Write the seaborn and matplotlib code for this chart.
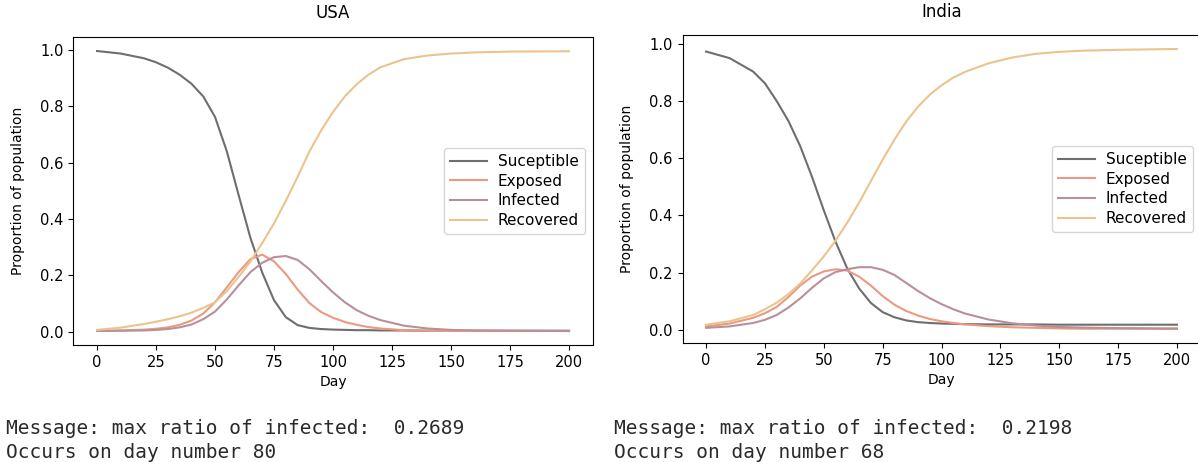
import numpy as np
import pandas as pd
import matplotlib
matplotlib.use("Agg")
import matplotlib.pyplot as plt
import seaborn as sns

# ---- data ----
usa_days = [0, 10, 20, 25, 30, 35, 40, 45, 50, 55, 60, 65, 70, 75, 80, 85, 90, 95,
            100, 105, 110, 115, 120, 130, 140, 150, 160, 175, 200]
usa_S = [0.996, 0.987, 0.970, 0.956, 0.937, 0.912, 0.880, 0.835, 0.762, 0.640, 0.485, 0.333,
         0.210, 0.112, 0.052, 0.024, 0.014, 0.010, 0.008, 0.007, 0.006, 0.006, 0.005, 0.005,
         0.004, 0.004, 0.004, 0.004, 0.004]
usa_E = [0.004, 0.005, 0.008, 0.011, 0.016, 0.025, 0.040, 0.065, 0.105, 0.158, 0.212, 0.258,
         0.274, 0.250, 0.205, 0.150, 0.102, 0.070, 0.050, 0.035, 0.025, 0.017, 0.012, 0.006,
         0.004, 0.003, 0.003, 0.003, 0.003]
usa_I = [0.003, 0.004, 0.005, 0.007, 0.010, 0.016, 0.026, 0.045, 0.072, 0.115, 0.165, 0.212,
         0.245, 0.265, 0.2689, 0.255, 0.222, 0.180, 0.140, 0.105, 0.077, 0.057, 0.042, 0.022,
         0.012, 0.007, 0.005, 0.004, 0.003]
usa_R = [0.007, 0.015, 0.028, 0.036, 0.045, 0.055, 0.068, 0.085, 0.105, 0.145, 0.195, 0.250,
         0.315, 0.385, 0.465, 0.550, 0.640, 0.715, 0.780, 0.835, 0.878, 0.912, 0.938, 0.967,
         0.980, 0.987, 0.991, 0.994, 0.995]

ind_days = [0, 10, 20, 25, 30, 35, 40, 45, 50, 55, 60, 65, 70, 75, 80, 85, 90, 95,
            100, 105, 110, 120, 130, 140, 150, 160, 175, 200]
ind_S = [0.973, 0.950, 0.903, 0.862, 0.800, 0.730, 0.642, 0.535, 0.418, 0.308, 0.214, 0.145,
         0.094, 0.062, 0.044, 0.033, 0.027, 0.024, 0.022, 0.021, 0.020, 0.019, 0.019, 0.019,
         0.018, 0.018, 0.018, 0.018]
ind_E = [0.012, 0.022, 0.042, 0.058, 0.080, 0.115, 0.155, 0.186, 0.204, 0.212, 0.207, 0.186,
         0.155, 0.118, 0.088, 0.066, 0.050, 0.038, 0.030, 0.024, 0.019, 0.013, 0.009, 0.007,
         0.005, 0.004, 0.004, 0.003]
ind_I = [0.007, 0.012, 0.024, 0.035, 0.052, 0.078, 0.110, 0.147, 0.180, 0.202, 0.212, 0.219,
         0.219, 0.210, 0.192, 0.164, 0.136, 0.111, 0.090, 0.072, 0.057, 0.036, 0.023, 0.015,
         0.010, 0.008, 0.006, 0.005]
ind_R = [0.018, 0.030, 0.052, 0.072, 0.095, 0.125, 0.162, 0.208, 0.257, 0.312, 0.375, 0.445,
         0.520, 0.595, 0.665, 0.728, 0.780, 0.822, 0.855, 0.882, 0.902, 0.932, 0.952, 0.965,
         0.972, 0.976, 0.979, 0.982]

labels = ["Suceptible", "Exposed", "Infected", "Recovered"]
colors = {"Suceptible": "#6e6e6e", "Exposed": "#ea9a80",
          "Infected": "#b98f99", "Recovered": "#eac48e"}

countries = [
    ("USA", usa_days, [usa_S, usa_E, usa_I, usa_R], "0.2689", "80"),
    ("India", ind_days, [ind_S, ind_E, ind_I, ind_R], "0.2198", "68"),
]

fig = plt.figure(figsize=(11.98, 4.62), dpi=100)
positions = [[0.0613, 0.2532, 0.4334, 0.6667], [0.5697, 0.2576, 0.4324, 0.6667]]

for (name, days, series, mx, day), pos, tx in zip(countries, positions, [0.005, 0.5125]):
    ax = fig.add_axes(pos)
    frames = []
    for lab, vals in zip(labels, series):
        frames.append(pd.DataFrame({"Day": days, "value": vals, "comp": lab}))
    df = pd.concat(frames, ignore_index=True)
    sns.lineplot(data=df, x="Day", y="value", hue="comp", hue_order=labels,
                 palette=colors, ax=ax, linewidth=1.5, sort=False)
    ax.set_title(name, fontsize=12, pad=14 if name == "USA" else 13)
    ax.set_xlabel("Day", fontsize=10)
    ax.set_ylabel("Proportion of population", fontsize=10, labelpad=11)
    ax.set_xticks([0, 25, 50, 75, 100, 125, 150, 175, 200])
    ax.set_yticks([0.0, 0.2, 0.4, 0.6, 0.8, 1.0])
    ax.tick_params(labelsize=10.5)
    ax.legend(loc="center right", fontsize=11, title=None, labelspacing=0.3,
              handlelength=2.4, handletextpad=0.7)
    fig.text(tx, 1 - 428 / 462, f"Message: max ratio of infected:  {mx}",
             family="DejaVu Sans Mono", fontsize=14, color="#2a2a2a",
             va="center", ha="left")
    fig.text(tx, 1 - 452 / 462, f"Occurs on day number {day}",
             family="DejaVu Sans Mono", fontsize=14, color="#2a2a2a",
             va="center", ha="left")

fig.savefig("out.png", dpi=100)
